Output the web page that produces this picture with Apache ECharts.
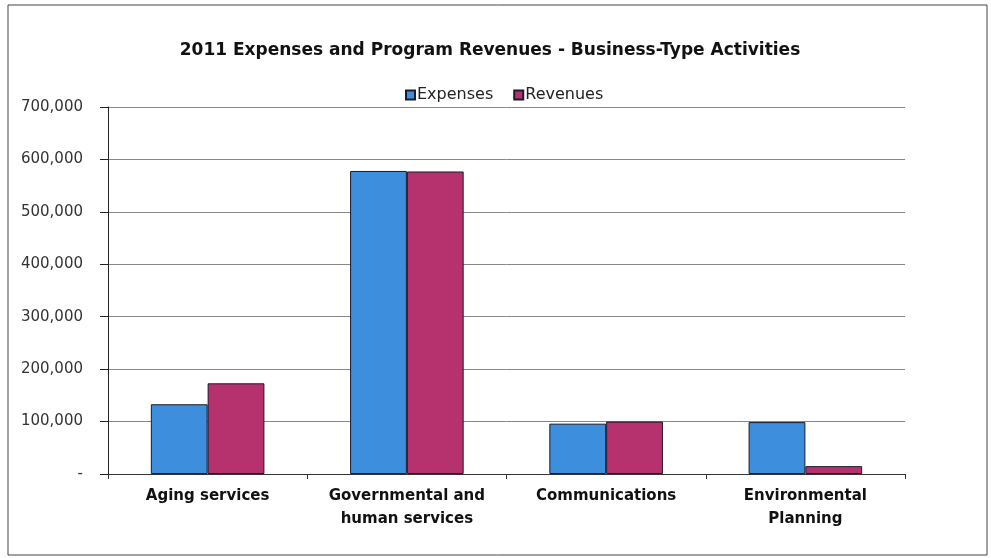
<!DOCTYPE html>
<html><head><meta charset="utf-8">
<script src="https://cdn.jsdelivr.net/npm/echarts@6/dist/echarts.min.js"></script>
<style>html,body{margin:0;padding:0;background:#fff}#c{width:991px;height:558px}</style>
</head><body><div id="c"></div>
<script>
const categories = ['Aging services', 'Governmental and\nhuman services', 'Communications', 'Environmental\nPlanning'];
const expenses = [133000, 578000, 96000, 99000];
const revenues = [173000, 577000, 100000, 15000];
const yTicks = [0, 100000, 200000, 300000, 400000, 500000, 600000, 700000];

const FONT = 'DejaVu Sans, Verdana, sans-serif';
const chart = echarts.init(document.getElementById('c'));
chart.setOption({
  animation: false,
  backgroundColor: '#fff',
  textStyle: { fontFamily: FONT },
  title: {
    text: '2011 Expenses and Program Revenues - Business-Type Activities',
    left: 485, top: 37, textAlign: 'center',
    textStyle: { fontSize: 17, fontWeight: 'bold', color: '#111', fontFamily: FONT }
  },
  legend: {
    data: ['Expenses', 'Revenues'],
    left: 400, top: 82, itemGap: 20,
    itemWidth: 9, itemHeight: 9, icon: 'rect',
    textStyle: { fontSize: 16, color: '#222', fontFamily: FONT, padding: [0, 0, 0, -3] }
  },
  graphic: [{
    type: 'rect', shape: { x: 8, y: 5, width: 979, height: 550 },
    style: { fill: 'none', stroke: '#444', lineWidth: 1 }, silent: true
  }],
  grid: { left: 108, right: 86, top: 107, bottom: 84 },
  xAxis: {
    type: 'category', data: categories,
    axisLine: { lineStyle: { color: '#333' } },
    axisTick: { show: true, interval: 0, length: 5, lineStyle: { color: '#333' } },
    axisLabel: { interval: 0, fontSize: 15, fontWeight: 'bold', color: '#111', fontFamily: FONT, margin: 11, lineHeight: 23 }
  },
  yAxis: {
    type: 'value', min: 0, max: 700000, interval: 100000,
    axisLine: { show: true, lineStyle: { color: '#222' } },
    axisTick: { show: true, length: 8, lineStyle: { color: '#222' } },
    splitLine: { lineStyle: { color: '#888' } },
    axisLabel: {
      fontSize: 15, color: '#333', fontFamily: FONT, margin: 25,
      formatter: v => yTicks.includes(v) ? (v === 0 ? '-' : v.toLocaleString('en-US')) : ''
    }
  },
  series: [
    { name: 'Expenses', type: 'bar', data: expenses, barGap: '0%', barCategoryGap: '43%',
      itemStyle: { color: '#3D8EDC', borderColor: '#1a1a2a', borderWidth: 1 } },
    { name: 'Revenues', type: 'bar', data: revenues,
      itemStyle: { color: '#B5326F', borderColor: '#1a1a2a', borderWidth: 1 } }
  ]
});
</script></body></html>
